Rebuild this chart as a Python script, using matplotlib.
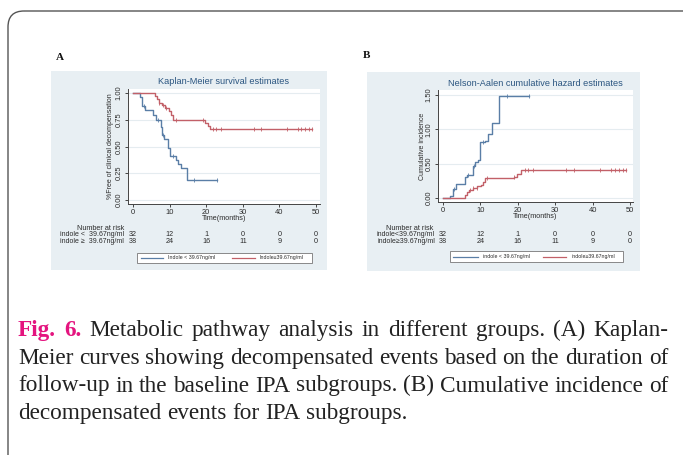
import matplotlib
matplotlib.use('Agg')
import matplotlib.pyplot as plt
from matplotlib.patches import FancyBboxPatch, Rectangle
from matplotlib.transforms import blended_transform_factory

# ---------------- data ----------------
# Kaplan-Meier (panel A)
km_low_t = [0, 1.8, 2.5, 3.3, 5.5, 6.2, 7.6, 8.0, 8.5, 9.5, 10.0, 11.7, 12.3, 13.1, 14.7, 23.0]
km_low_s = [1.0, 0.96, 0.875, 0.84, 0.79, 0.75, 0.68, 0.61, 0.57, 0.49, 0.41, 0.375, 0.34, 0.30, 0.185, 0.185]
km_low_cens = [3.0, 6.8, 8.2, 10.8, 16.7, 23.0]
km_high_t = [0, 6.0, 6.5, 7.0, 7.8, 8.8, 9.8, 10.4, 11.0, 19.6, 20.4, 21.0, 49.0]
km_high_s = [1.0, 0.97, 0.94, 0.91, 0.885, 0.86, 0.83, 0.79, 0.75, 0.72, 0.69, 0.66, 0.66]
# Nelson-Aalen (panel B)
na_low_t = [0, 1.8, 2.6, 3.6, 5.9, 6.4, 7.9, 8.5, 9.3, 9.8, 11.2, 12.0, 13.0, 15.0, 23.0]
na_low_h = [0, 0.03, 0.13, 0.20, 0.30, 0.33, 0.47, 0.52, 0.56, 0.81, 0.83, 0.93, 1.09, 1.49, 1.49]
na_low_cens = [3.0, 6.8, 8.2, 10.8, 17.0, 23.0]
na_high_t = [0, 5.9, 6.4, 7.0, 8.1, 9.2, 10.1, 10.6, 11.1, 19.0, 19.7, 20.8, 49.0]
na_high_h = [0, 0.05, 0.09, 0.12, 0.145, 0.17, 0.19, 0.24, 0.29, 0.31, 0.35, 0.41, 0.41]
high_cens = [7.2, 8.1, 9.0, 11.8, 19.0, 21.8, 22.7, 24.0, 33.0, 35.0, 42.0, 45.0, 46.0, 47.0, 48.0, 49.0]

risk_times = [0, 10, 20, 30, 40, 50]
risk_low = [32, 12, 1, 0, 0, 0]
risk_high = [38, 24, 16, 11, 9, 0]

xticks = [0, 10, 20, 30, 40, 50]
yticks_a = [0.0, 0.25, 0.5, 0.75, 1.0]
yticks_b = [0.0, 0.5, 1.0, 1.5]

caption_lines = [
    "Fig. 6. Metabolic pathway analysis in different groups. (A) Kaplan-",
    "Meier curves showing decompensated events based on the duration of",
    "follow-up in the baseline IPA subgroups. (B) Cumulative incidence of",
    "decompensated events for IPA subgroups.",
]

# ---------------- style ----------------
BLUE = '#5a7ea6'
RED = '#c26068'
BG = '#e8eff3'
TITLE = '#2a5580'
GRID = '#e5ecf0'
AX = '#444444'
TXT = '#2b2b2b'
SANS = 'Liberation Sans'
SERIF = 'Liberation Serif'

W, H = 683, 455
fig = plt.figure(figsize=(W / 100, H / 100), dpi=100)
ov = fig.add_axes([0, 0, 1, 1])
ov.set_xlim(0, W)
ov.set_ylim(H, 0)
ov.axis('off')
ov.set_zorder(0)

# outer rounded frame
ov.add_patch(FancyBboxPatch((8, 11), 700, 470, boxstyle='round,pad=0,rounding_size=16',
                            fc='none', ec='#555555', lw=1.0))


def add_ax(l, t, r, b):
    ax = fig.add_axes([l / W, 1 - b / H, (r - l) / W, (b - t) / H])
    ax.set_zorder(2)
    return ax


def style_axes(ax, yticks, yfmt, xlim, ylim):
    ax.set_facecolor('white')
    ax.set_xlim(*xlim)
    ax.set_ylim(*ylim)
    for s in ['top', 'right']:
        ax.spines[s].set_visible(False)
    for s in ['left', 'bottom']:
        ax.spines[s].set_color(AX)
        ax.spines[s].set_linewidth(0.7)
    ax.set_xticks(xticks)
    ax.set_xticklabels([str(v) for v in xticks])
    ax.set_yticks(yticks)
    ax.set_yticklabels([yfmt % v for v in yticks])
    ax.tick_params(direction='out', length=2.5, width=0.7, color=AX, labelsize=5.4,
                   labelcolor=TXT, pad=1.2)
    ax.tick_params(axis='y', labelrotation=90)
    for lab in ax.get_yticklabels():
        lab.set_va('center')
        lab.set_fontfamily(SANS)
    for lab in ax.get_xticklabels():
        lab.set_fontfamily(SANS)
    ax.yaxis.grid(True, color=GRID, lw=0.8)
    ax.set_axisbelow(True)


def draw_panel(letter, letter_xy, bg, box, title, title_y, ylabel, ylabel_x, yticks, yfmt,
               xlim, ylim, curves, row_labels, label_right, nar_xy, rows_y, legend_box,
               legend_items):
    ov.text(letter_xy[0], letter_xy[1], letter, family=SERIF, fontweight='bold', fontsize=8,
            ha='left', va='center', color='#111111')
    ov.add_patch(Rectangle((bg[0], bg[1]), bg[2] - bg[0], bg[3] - bg[1], fc=BG, ec='none'))
    ax = add_ax(*box)
    style_axes(ax, yticks, yfmt, xlim, ylim)
    for t, v, col, cens in curves:
        ax.step(t, v, where='post', color=col, lw=1.0)
        cy = [v[max(i for i in range(len(t)) if t[i] <= c)] for c in cens]
        ax.plot(cens, cy, ls='none', marker='|', ms=2.4, mew=0.6, color=col)
    cx = (box[0] + box[2]) / 2
    ov.text(cx, title_y, title, family=SANS, fontsize=6.6, color=TITLE, ha='center', va='center')
    ov.text(ylabel_x, (box[1] + box[3]) / 2, ylabel, family=SANS, fontsize=5.0, rotation=90,
            ha='center', va='center', color=TXT)
    ov.text(cx, box[3] + 15, 'Time(months)', family=SANS, fontsize=5.2, ha='center',
            va='center', color=TXT)
    # number at risk
    ov.text(nar_xy[0], nar_xy[1], 'Number at risk', family=SANS, fontsize=5.2, ha='center',
            va='center', color=TXT)
    tr = blended_transform_factory(ax.transData, ov.transData)
    for lab, counts, yy in zip(row_labels, [risk_low, risk_high], rows_y):
        ov.text(label_right, yy, lab, family=SANS, fontsize=5.0, ha='right', va='center',
                color=TXT)
        for tt, n in zip(risk_times, counts):
            ov.text(tt, yy, str(n), transform=tr, family=SANS, fontsize=5.2, ha='center',
                    va='center', color=TXT, clip_on=False)
    # legend
    lx0, ly0, lx1, ly1 = legend_box
    ov.add_patch(Rectangle((lx0, ly0), lx1 - lx0, ly1 - ly0, fc='white', ec='#777777', lw=0.6))
    ymid = (ly0 + ly1) / 2
    for (x0, x1, tx, txt, col) in legend_items:
        ov.plot([x0, x1], [ymid, ymid], color=col, lw=0.9)
        ov.text(tx, ymid, txt, family=SANS, fontsize=3.8, ha='left', va='center',
                color=TXT)
    return ax


axA = draw_panel('A', (56, 57), (51, 71, 327, 270), (128, 89, 320, 204),
                 'Kaplan-Meier survival estimates', 82,
                 '%Free of clinical decompensation', 110, yticks_a, '%.2f',
                 ((128 - 133) / 3.66, (320 - 133) / 3.66), ((200 - 204) / 107, (200 - 89) / 107),
                 [(km_low_t, km_low_s, BLUE, km_low_cens), (km_high_t, km_high_s, RED, high_cens)],
                 ['indole <  39.67ng/ml', 'indole \u2265  39.67ng/ml'], 124, (101, 228),
                 (235, 241.5), (137, 253, 312, 263),
                 [(141, 163, 168, 'Indole < 39.67ng/ml', BLUE),
                  (232, 255, 260, 'Indole\u226539.67ng/ml', RED)])

axB = draw_panel('B', (363, 56), (367, 72, 640, 271), (438, 90, 633, 202),
                 'Nelson-Aalen cumulative hazard estimates', 83,
                 'Cumulative incidence', 422, yticks_b, '%.2f',
                 ((438 - 443) / 3.74, (633 - 443) / 3.74), ((198 - 202) / 68.67, (198 - 90) / 68.67),
                 [(na_low_t, na_low_h, BLUE, na_low_cens), (na_high_t, na_high_h, RED, high_cens)],
                 ['indole<39.67ng/ml', 'indole\u226539.67ng/ml'], 435, (410, 228),
                 (234.5, 241.5), (450, 251, 623, 262),
                 [(453, 478, 483, 'indole < 39.67ng/ml', BLUE),
                  (543, 566, 572, 'indole\u226539.67ng/ml', RED)])

# ---------------- caption (justified) ----------------
renderer = fig.canvas.get_renderer()
LEFT, RIGHT = 18, 668
baselines = [336, 364, 391.5, 419]
MAGENTA = '#e4147f'


def measure(word, fs, bold=False):
    t = ov.text(0, 0, word, family=SERIF, fontsize=fs, fontweight='bold' if bold else 'normal')
    w = t.get_window_extent(renderer).width
    t.remove()
    return w


fs = 15.0
words2 = caption_lines[1].split(' ')
sp = measure('a a', fs) - 2 * measure('a', fs)
nat = sum(measure(w, fs) for w in words2) + (len(words2) - 1) * sp
fs = fs * (RIGHT - LEFT - 2) / nat * 1.01
sp = measure('a a', fs) - 2 * measure('a', fs)

for li, line in enumerate(caption_lines):
    words = line.split(' ')
    bolds = [li == 0 and i < 2 for i in range(len(words))]
    widths = [measure(w, fs, b) for w, b in zip(words, bolds)]
    if li < len(caption_lines) - 1:
        gap = (RIGHT - LEFT - sum(widths)) / (len(words) - 1)
    else:
        gap = sp
    x = LEFT
    for w, b, wd in zip(words, bolds, widths):
        ov.text(x, baselines[li], w, family=SERIF, fontsize=fs,
                fontweight='bold' if b else 'normal', color=MAGENTA if b else '#222222',
                ha='left', va='baseline')
        x += wd + gap

fig.savefig('out.png', dpi=100, facecolor='white')
